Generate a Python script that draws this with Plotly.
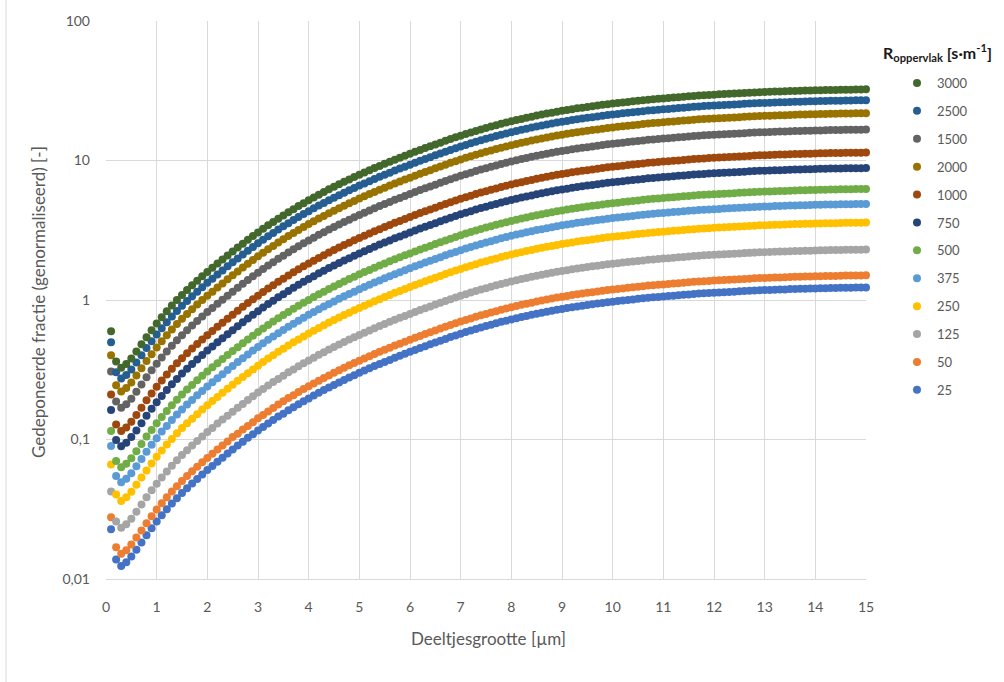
import plotly.graph_objects as go

# Particle diameter [µm]
diameter_um = [
    0.1, 0.2, 0.3, 0.4, 0.5, 0.6, 0.7, 0.8, 0.9, 1.0,
    1.1, 1.2, 1.3, 1.4, 1.5, 1.6, 1.7, 1.8, 1.9, 2.0,
    2.1, 2.2, 2.3, 2.4, 2.5, 2.6, 2.7, 2.8, 2.9, 3.0,
    3.1, 3.2, 3.3, 3.4, 3.5, 3.6, 3.7, 3.8, 3.9, 4.0,
    4.1, 4.2, 4.3, 4.4, 4.5, 4.6, 4.7, 4.8, 4.9, 5.0,
    5.1, 5.2, 5.3, 5.4, 5.5, 5.6, 5.7, 5.8, 5.9, 6.0,
    6.1, 6.2, 6.3, 6.4, 6.5, 6.6, 6.7, 6.8, 6.9, 7.0,
    7.1, 7.2, 7.3, 7.4, 7.5, 7.6, 7.7, 7.8, 7.9, 8.0,
    8.1, 8.2, 8.3, 8.4, 8.5, 8.6, 8.7, 8.8, 8.9, 9.0,
    9.1, 9.2, 9.3, 9.4, 9.5, 9.6, 9.7, 9.8, 9.9, 10.0,
    10.1, 10.2, 10.3, 10.4, 10.5, 10.6, 10.7, 10.8, 10.9, 11.0,
    11.1, 11.2, 11.3, 11.4, 11.5, 11.6, 11.7, 11.8, 11.9, 12.0,
    12.1, 12.2, 12.3, 12.4, 12.5, 12.6, 12.7, 12.8, 12.9, 13.0,
    13.1, 13.2, 13.3, 13.4, 13.5, 13.6, 13.7, 13.8, 13.9, 14.0,
    14.1, 14.2, 14.3, 14.4, 14.5, 14.6, 14.7, 14.8, 14.9, 15.0,
]

# Normalised deposited fraction per surface resistance [s·m-1]
dep_3000 = [
    0.596, 0.363, 0.327, 0.347, 0.380, 0.427, 0.481, 0.541, 0.607, 0.678,
    0.752, 0.830, 0.912, 0.998, 1.086, 1.178, 1.274, 1.374, 1.479, 1.589,
    1.702, 1.824, 1.950, 2.084, 2.228, 2.377, 2.535, 2.698, 2.871, 3.048,
    3.236, 3.428, 3.622, 3.828, 4.036, 4.256, 4.477, 4.710, 4.943, 5.188,
    5.433, 5.689, 5.943, 6.209, 6.471, 6.745, 7.031, 7.311, 7.603, 7.907,
    8.204, 8.511, 8.831, 9.141, 9.462, 9.795, 10.14, 10.47, 10.81, 11.17,
    11.53, 11.91, 12.27, 12.65, 13.03, 13.43, 13.83, 14.26, 14.66, 15.07,
    15.49, 15.89, 16.29, 16.71, 17.10, 17.50, 17.91, 18.32, 18.71, 19.10,
    19.50, 19.86, 20.23, 20.61, 20.99, 21.33, 21.68, 22.03, 22.39, 22.70,
    23.01, 23.33, 23.66, 23.93, 24.21, 24.49, 24.77, 25.06, 25.35, 25.59,
    25.82, 26.06, 26.30, 26.55, 26.79, 27.04, 27.29, 27.48, 27.67, 27.86,
    28.05, 28.25, 28.44, 28.64, 28.84, 29.04, 29.24, 29.38, 29.51, 29.65,
    29.79, 29.92, 30.06, 30.20, 30.34, 30.48, 30.62, 30.76, 30.90, 30.97,
    31.05, 31.19, 31.26, 31.33, 31.48, 31.55, 31.62, 31.70, 31.77, 31.84,
    31.92, 31.99, 32.06, 32.06, 32.14, 32.21, 32.21, 32.28, 32.28, 32.36,
]

dep_2500 = [
    0.498, 0.303, 0.274, 0.290, 0.318, 0.356, 0.402, 0.452, 0.507, 0.566,
    0.628, 0.693, 0.762, 0.834, 0.908, 0.984, 1.064, 1.148, 1.236, 1.327,
    1.423, 1.524, 1.630, 1.742, 1.862, 1.986, 2.118, 2.254, 2.399, 2.547,
    2.704, 2.864, 3.027, 3.199, 3.373, 3.556, 3.741, 3.936, 4.131, 4.335,
    4.540, 4.753, 4.966, 5.188, 5.407, 5.636, 5.875, 6.110, 6.353, 6.607,
    6.855, 7.112, 7.379, 7.638, 7.907, 8.185, 8.472, 8.750, 9.037, 9.333,
    9.639, 9.954, 10.26, 10.57, 10.89, 11.22, 11.56, 11.91, 12.25, 12.59,
    12.94, 13.27, 13.61, 13.96, 14.29, 14.62, 14.96, 15.31, 15.63, 15.96,
    16.29, 16.60, 16.90, 17.22, 17.54, 17.82, 18.11, 18.41, 18.71, 18.97,
    19.23, 19.50, 19.77, 20.00, 20.23, 20.46, 20.70, 20.94, 21.18, 21.38,
    21.58, 21.78, 21.98, 22.18, 22.39, 22.59, 22.80, 22.96, 23.12, 23.28,
    23.44, 23.61, 23.77, 23.93, 24.10, 24.27, 24.43, 24.55, 24.66, 24.77,
    24.89, 25.00, 25.12, 25.23, 25.35, 25.47, 25.59, 25.70, 25.82, 25.88,
    25.94, 26.06, 26.12, 26.18, 26.30, 26.36, 26.42, 26.49, 26.55, 26.61,
    26.67, 26.73, 26.79, 26.79, 26.85, 26.92, 26.92, 26.98, 26.98, 27.04,
]

dep_2000 = [
    0.402, 0.245, 0.221, 0.234, 0.256, 0.288, 0.324, 0.365, 0.409, 0.457,
    0.507, 0.560, 0.615, 0.673, 0.733, 0.794, 0.859, 0.927, 0.998, 1.072,
    1.148, 1.230, 1.315, 1.406, 1.503, 1.603, 1.710, 1.820, 1.936, 2.056,
    2.183, 2.312, 2.443, 2.582, 2.723, 2.871, 3.020, 3.177, 3.334, 3.499,
    3.664, 3.837, 4.009, 4.188, 4.365, 4.550, 4.742, 4.932, 5.129, 5.333,
    5.534, 5.741, 5.957, 6.166, 6.384, 6.607, 6.839, 7.063, 7.294, 7.531,
    7.780, 8.036, 8.280, 8.531, 8.790, 9.057, 9.333, 9.616, 9.886, 10.16,
    10.45, 10.72, 10.99, 11.27, 11.53, 11.80, 12.08, 12.36, 12.62, 12.88,
    13.15, 13.40, 13.65, 13.90, 14.16, 14.39, 14.62, 14.86, 15.10, 15.31,
    15.52, 15.74, 15.96, 16.14, 16.33, 16.52, 16.71, 16.90, 17.10, 17.26,
    17.42, 17.58, 17.74, 17.91, 18.07, 18.24, 18.41, 18.54, 18.66, 18.79,
    18.92, 19.05, 19.19, 19.32, 19.45, 19.59, 19.72, 19.82, 19.91, 20.00,
    20.09, 20.18, 20.28, 20.37, 20.46, 20.56, 20.65, 20.75, 20.84, 20.89,
    20.94, 21.04, 21.09, 21.13, 21.23, 21.28, 21.33, 21.38, 21.43, 21.48,
    21.53, 21.58, 21.63, 21.63, 21.68, 21.73, 21.73, 21.78, 21.78, 21.83,
]

dep_1500 = [
    0.307, 0.187, 0.169, 0.179, 0.196, 0.220, 0.248, 0.279, 0.313, 0.349,
    0.387, 0.428, 0.470, 0.514, 0.560, 0.607, 0.656, 0.708, 0.762, 0.819,
    0.877, 0.940, 1.005, 1.074, 1.148, 1.225, 1.306, 1.390, 1.479, 1.570,
    1.667, 1.766, 1.866, 1.972, 2.080, 2.193, 2.307, 2.427, 2.547, 2.673,
    2.799, 2.931, 3.062, 3.199, 3.334, 3.475, 3.622, 3.767, 3.917, 4.074,
    4.227, 4.385, 4.550, 4.710, 4.875, 5.047, 5.224, 5.395, 5.572, 5.754,
    5.943, 6.138, 6.324, 6.516, 6.714, 6.918, 7.129, 7.345, 7.551, 7.762,
    7.980, 8.185, 8.395, 8.610, 8.810, 9.016, 9.226, 9.441, 9.639, 9.840,
    10.05, 10.23, 10.42, 10.62, 10.81, 10.99, 11.17, 11.35, 11.53, 11.69,
    11.86, 12.02, 12.19, 12.33, 12.47, 12.62, 12.76, 12.91, 13.06, 13.18,
    13.30, 13.43, 13.55, 13.68, 13.80, 13.93, 14.06, 14.16, 14.26, 14.35,
    14.45, 14.55, 14.66, 14.76, 14.86, 14.96, 15.07, 15.14, 15.21, 15.28,
    15.35, 15.42, 15.49, 15.56, 15.63, 15.70, 15.78, 15.85, 15.92, 15.96,
    16.00, 16.07, 16.11, 16.14, 16.22, 16.26, 16.29, 16.33, 16.37, 16.41,
    16.44, 16.48, 16.52, 16.52, 16.56, 16.60, 16.60, 16.63, 16.63, 16.67,
]

dep_1000 = [
    0.210, 0.128, 0.115, 0.122, 0.134, 0.150, 0.169, 0.191, 0.214, 0.239,
    0.265, 0.292, 0.321, 0.352, 0.383, 0.415, 0.449, 0.484, 0.521, 0.560,
    0.600, 0.643, 0.687, 0.735, 0.785, 0.838, 0.893, 0.951, 1.012, 1.074,
    1.140, 1.208, 1.276, 1.349, 1.422, 1.500, 1.578, 1.660, 1.742, 1.828,
    1.914, 2.004, 2.094, 2.188, 2.280, 2.377, 2.477, 2.576, 2.679, 2.786,
    2.891, 2.999, 3.111, 3.221, 3.334, 3.451, 3.573, 3.690, 3.811, 3.936,
    4.064, 4.198, 4.325, 4.457, 4.592, 4.732, 4.875, 5.023, 5.164, 5.309,
    5.458, 5.598, 5.741, 5.888, 6.026, 6.166, 6.310, 6.457, 6.592, 6.730,
    6.871, 6.998, 7.129, 7.261, 7.396, 7.516, 7.638, 7.762, 7.888, 7.998,
    8.110, 8.223, 8.337, 8.433, 8.531, 8.630, 8.730, 8.831, 8.933, 9.016,
    9.099, 9.183, 9.269, 9.354, 9.441, 9.528, 9.616, 9.683, 9.750, 9.817,
    9.886, 9.954, 10.02, 10.09, 10.16, 10.23, 10.30, 10.35, 10.40, 10.45,
    10.50, 10.54, 10.59, 10.64, 10.69, 10.74, 10.79, 10.84, 10.89, 10.91,
    10.94, 10.99, 11.02, 11.04, 11.09, 11.12, 11.14, 11.17, 11.19, 11.22,
    11.25, 11.27, 11.30, 11.30, 11.32, 11.35, 11.35, 11.38, 11.38, 11.40,
]

dep_750 = [
    0.163, 0.0991, 0.0893, 0.0946, 0.104, 0.116, 0.131, 0.148, 0.166, 0.185,
    0.205, 0.226, 0.249, 0.272, 0.297, 0.321, 0.348, 0.375, 0.404, 0.434,
    0.465, 0.498, 0.532, 0.569, 0.608, 0.649, 0.692, 0.736, 0.783, 0.832,
    0.883, 0.935, 0.989, 1.045, 1.101, 1.161, 1.222, 1.285, 1.349, 1.416,
    1.483, 1.552, 1.622, 1.694, 1.766, 1.841, 1.919, 1.995, 2.075, 2.158,
    2.239, 2.323, 2.410, 2.495, 2.582, 2.673, 2.767, 2.858, 2.951, 3.048,
    3.148, 3.251, 3.350, 3.451, 3.556, 3.664, 3.776, 3.890, 3.999, 4.111,
    4.227, 4.335, 4.446, 4.560, 4.667, 4.775, 4.887, 5.000, 5.105, 5.212,
    5.321, 5.420, 5.521, 5.623, 5.728, 5.821, 5.916, 6.012, 6.110, 6.194,
    6.281, 6.368, 6.457, 6.531, 6.607, 6.683, 6.761, 6.839, 6.918, 6.982,
    7.047, 7.112, 7.178, 7.244, 7.311, 7.379, 7.447, 7.499, 7.551, 7.603,
    7.656, 7.709, 7.762, 7.816, 7.870, 7.925, 7.980, 8.017, 8.054, 8.091,
    8.128, 8.166, 8.204, 8.242, 8.280, 8.318, 8.357, 8.395, 8.434, 8.453,
    8.472, 8.511, 8.531, 8.551, 8.591, 8.610, 8.630, 8.650, 8.670, 8.690,
    8.710, 8.730, 8.750, 8.750, 8.770, 8.790, 8.790, 8.810, 8.810, 8.831,
]

dep_500 = [
    0.115, 0.0702, 0.0632, 0.0670, 0.0735, 0.0824, 0.0929, 0.105, 0.117, 0.131,
    0.145, 0.160, 0.176, 0.193, 0.210, 0.228, 0.246, 0.266, 0.286, 0.307,
    0.329, 0.352, 0.377, 0.403, 0.431, 0.459, 0.490, 0.521, 0.555, 0.589,
    0.625, 0.662, 0.700, 0.740, 0.780, 0.822, 0.865, 0.910, 0.955, 1.002,
    1.050, 1.099, 1.148, 1.199, 1.250, 1.303, 1.358, 1.413, 1.469, 1.528,
    1.585, 1.644, 1.706, 1.766, 1.828, 1.892, 1.959, 2.023, 2.089, 2.158,
    2.228, 2.301, 2.371, 2.443, 2.518, 2.594, 2.673, 2.754, 2.831, 2.911,
    2.992, 3.069, 3.148, 3.228, 3.304, 3.381, 3.459, 3.540, 3.614, 3.690,
    3.767, 3.837, 3.908, 3.981, 4.055, 4.121, 4.188, 4.256, 4.325, 4.385,
    4.446, 4.508, 4.571, 4.624, 4.677, 4.732, 4.786, 4.842, 4.898, 4.943,
    4.989, 5.035, 5.082, 5.129, 5.176, 5.224, 5.272, 5.309, 5.346, 5.383,
    5.420, 5.458, 5.495, 5.534, 5.572, 5.610, 5.649, 5.675, 5.701, 5.728,
    5.754, 5.781, 5.808, 5.834, 5.861, 5.888, 5.916, 5.943, 5.970, 5.984,
    5.998, 6.026, 6.040, 6.054, 6.082, 6.096, 6.110, 6.124, 6.138, 6.152,
    6.166, 6.180, 6.194, 6.194, 6.209, 6.223, 6.223, 6.237, 6.237, 6.252,
]

dep_375 = [
    0.0900, 0.0548, 0.0494, 0.0524, 0.0574, 0.0644, 0.0726, 0.0817, 0.0916, 0.102,
    0.114, 0.125, 0.138, 0.151, 0.164, 0.178, 0.192, 0.208, 0.223, 0.240,
    0.257, 0.275, 0.294, 0.315, 0.337, 0.359, 0.383, 0.407, 0.434, 0.460,
    0.489, 0.518, 0.547, 0.578, 0.610, 0.643, 0.676, 0.711, 0.746, 0.783,
    0.820, 0.859, 0.898, 0.938, 0.977, 1.019, 1.062, 1.104, 1.148, 1.194,
    1.239, 1.285, 1.334, 1.380, 1.429, 1.479, 1.531, 1.581, 1.633, 1.687,
    1.742, 1.799, 1.854, 1.910, 1.968, 2.028, 2.089, 2.153, 2.213, 2.275,
    2.339, 2.399, 2.460, 2.523, 2.582, 2.642, 2.704, 2.767, 2.825, 2.884,
    2.944, 2.999, 3.055, 3.111, 3.170, 3.221, 3.273, 3.327, 3.381, 3.428,
    3.475, 3.524, 3.573, 3.614, 3.656, 3.698, 3.741, 3.784, 3.828, 3.864,
    3.899, 3.936, 3.972, 4.009, 4.046, 4.083, 4.121, 4.150, 4.178, 4.207,
    4.236, 4.266, 4.295, 4.325, 4.355, 4.385, 4.416, 4.436, 4.457, 4.477,
    4.498, 4.519, 4.540, 4.560, 4.581, 4.603, 4.624, 4.645, 4.667, 4.677,
    4.688, 4.710, 4.721, 4.732, 4.753, 4.764, 4.775, 4.786, 4.797, 4.808,
    4.820, 4.831, 4.842, 4.842, 4.853, 4.864, 4.864, 4.875, 4.875, 4.887,
]

dep_250 = [
    0.0661, 0.0403, 0.0363, 0.0385, 0.0422, 0.0473, 0.0533, 0.0600, 0.0673, 0.0752,
    0.0834, 0.0920, 0.101, 0.111, 0.121, 0.131, 0.141, 0.152, 0.164, 0.176,
    0.189, 0.202, 0.216, 0.231, 0.247, 0.264, 0.281, 0.299, 0.318, 0.338,
    0.359, 0.380, 0.402, 0.425, 0.448, 0.472, 0.497, 0.522, 0.548, 0.575,
    0.603, 0.631, 0.659, 0.689, 0.718, 0.748, 0.780, 0.811, 0.843, 0.877,
    0.910, 0.944, 0.980, 1.014, 1.050, 1.086, 1.125, 1.161, 1.199, 1.239,
    1.279, 1.321, 1.361, 1.403, 1.445, 1.489, 1.535, 1.581, 1.626, 1.671,
    1.718, 1.762, 1.807, 1.854, 1.897, 1.941, 1.986, 2.032, 2.075, 2.118,
    2.163, 2.203, 2.244, 2.286, 2.328, 2.366, 2.404, 2.443, 2.483, 2.518,
    2.553, 2.588, 2.624, 2.655, 2.685, 2.717, 2.748, 2.780, 2.812, 2.838,
    2.864, 2.891, 2.917, 2.944, 2.972, 2.999, 3.027, 3.048, 3.069, 3.090,
    3.111, 3.133, 3.155, 3.177, 3.199, 3.221, 3.243, 3.258, 3.273, 3.289,
    3.304, 3.319, 3.334, 3.350, 3.365, 3.381, 3.396, 3.412, 3.428, 3.436,
    3.443, 3.459, 3.467, 3.475, 3.491, 3.499, 3.508, 3.516, 3.524, 3.532,
    3.540, 3.548, 3.556, 3.556, 3.565, 3.573, 3.573, 3.581, 3.581, 3.589,
]

dep_125 = [
    0.0424, 0.0258, 0.0233, 0.0247, 0.0270, 0.0303, 0.0342, 0.0385, 0.0432, 0.0482,
    0.0535, 0.0590, 0.0649, 0.0710, 0.0773, 0.0838, 0.0906, 0.0977, 0.105, 0.113,
    0.121, 0.130, 0.139, 0.148, 0.158, 0.169, 0.180, 0.192, 0.204, 0.217,
    0.230, 0.244, 0.258, 0.272, 0.287, 0.303, 0.318, 0.335, 0.352, 0.369,
    0.386, 0.405, 0.423, 0.442, 0.460, 0.480, 0.500, 0.520, 0.541, 0.562,
    0.583, 0.605, 0.628, 0.650, 0.673, 0.697, 0.721, 0.745, 0.769, 0.794,
    0.820, 0.847, 0.873, 0.900, 0.927, 0.955, 0.984, 1.014, 1.042, 1.072,
    1.101, 1.130, 1.159, 1.189, 1.216, 1.245, 1.274, 1.303, 1.330, 1.358,
    1.387, 1.413, 1.439, 1.466, 1.493, 1.517, 1.542, 1.567, 1.592, 1.614,
    1.637, 1.660, 1.683, 1.702, 1.722, 1.742, 1.762, 1.782, 1.803, 1.820,
    1.837, 1.854, 1.871, 1.888, 1.905, 1.923, 1.941, 1.954, 1.968, 1.982,
    1.995, 2.009, 2.023, 2.037, 2.051, 2.065, 2.080, 2.089, 2.099, 2.109,
    2.118, 2.128, 2.138, 2.148, 2.158, 2.168, 2.178, 2.188, 2.198, 2.203,
    2.208, 2.218, 2.223, 2.228, 2.239, 2.244, 2.249, 2.254, 2.259, 2.265,
    2.270, 2.275, 2.280, 2.280, 2.286, 2.291, 2.291, 2.296, 2.296, 2.301,
]

dep_50 = [
    0.0277, 0.0169, 0.0152, 0.0161, 0.0177, 0.0198, 0.0223, 0.0251, 0.0282, 0.0315,
    0.0349, 0.0386, 0.0424, 0.0463, 0.0505, 0.0547, 0.0592, 0.0638, 0.0687, 0.0738,
    0.0791, 0.0847, 0.0906, 0.0968, 0.104, 0.110, 0.118, 0.125, 0.133, 0.142,
    0.150, 0.159, 0.168, 0.178, 0.188, 0.198, 0.208, 0.219, 0.230, 0.241,
    0.252, 0.264, 0.276, 0.288, 0.301, 0.313, 0.327, 0.340, 0.353, 0.367,
    0.381, 0.395, 0.410, 0.425, 0.440, 0.455, 0.471, 0.486, 0.502, 0.519,
    0.536, 0.553, 0.570, 0.588, 0.605, 0.624, 0.643, 0.662, 0.681, 0.700,
    0.720, 0.738, 0.757, 0.776, 0.794, 0.813, 0.832, 0.851, 0.869, 0.887,
    0.906, 0.923, 0.940, 0.957, 0.975, 0.991, 1.007, 1.023, 1.040, 1.054,
    1.069, 1.084, 1.099, 1.112, 1.125, 1.138, 1.151, 1.164, 1.178, 1.189,
    1.199, 1.211, 1.222, 1.233, 1.245, 1.256, 1.268, 1.276, 1.285, 1.294,
    1.303, 1.312, 1.321, 1.330, 1.340, 1.349, 1.358, 1.365, 1.371, 1.377,
    1.384, 1.390, 1.396, 1.403, 1.409, 1.416, 1.422, 1.429, 1.435, 1.439,
    1.442, 1.449, 1.452, 1.455, 1.462, 1.466, 1.469, 1.472, 1.476, 1.479,
    1.483, 1.486, 1.489, 1.489, 1.493, 1.496, 1.496, 1.500, 1.500, 1.503,
]

dep_25 = [
    0.0227, 0.0138, 0.0124, 0.0132, 0.0145, 0.0162, 0.0183, 0.0206, 0.0231, 0.0258,
    0.0286, 0.0316, 0.0347, 0.0379, 0.0413, 0.0448, 0.0484, 0.0522, 0.0562, 0.0604,
    0.0647, 0.0693, 0.0741, 0.0793, 0.0847, 0.0904, 0.0964, 0.103, 0.109, 0.116,
    0.123, 0.130, 0.138, 0.146, 0.153, 0.162, 0.170, 0.179, 0.188, 0.197,
    0.207, 0.216, 0.226, 0.236, 0.246, 0.256, 0.267, 0.278, 0.289, 0.301,
    0.312, 0.324, 0.336, 0.348, 0.360, 0.372, 0.386, 0.398, 0.411, 0.425,
    0.439, 0.453, 0.467, 0.481, 0.496, 0.511, 0.526, 0.542, 0.557, 0.573,
    0.589, 0.604, 0.619, 0.635, 0.650, 0.665, 0.681, 0.697, 0.711, 0.726,
    0.741, 0.755, 0.769, 0.783, 0.798, 0.811, 0.824, 0.838, 0.851, 0.863,
    0.875, 0.887, 0.900, 0.910, 0.920, 0.931, 0.942, 0.953, 0.964, 0.973,
    0.982, 0.991, 1.000, 1.009, 1.019, 1.028, 1.038, 1.045, 1.052, 1.059,
    1.067, 1.074, 1.081, 1.089, 1.096, 1.104, 1.112, 1.117, 1.122, 1.127,
    1.132, 1.138, 1.143, 1.148, 1.153, 1.159, 1.164, 1.169, 1.175, 1.178,
    1.180, 1.186, 1.189, 1.191, 1.197, 1.199, 1.202, 1.205, 1.208, 1.211,
    1.213, 1.216, 1.219, 1.219, 1.222, 1.225, 1.225, 1.227, 1.227, 1.230,
]

# Log-axis ticks with decimal commas
y_tick_values = [0.01, 0.1, 1, 10, 100]
y_tick_labels = ["0,01", "0,1", "1", "10", "100"]

# (legend label, colour, values) in drawing order
series = [
    ("25", "#4472C4", dep_25),
    ("50", "#ED7D31", dep_50),
    ("125", "#A5A5A5", dep_125),
    ("250", "#FFC000", dep_250),
    ("375", "#5B9BD5", dep_375),
    ("500", "#70AD47", dep_500),
    ("750", "#264478", dep_750),
    ("1000", "#9E480E", dep_1000),
    ("2000", "#997300", dep_2000),
    ("1500", "#636363", dep_1500),
    ("2500", "#255E91", dep_2500),
    ("3000", "#43682B", dep_3000),
]

FONT = "Lato, 'Open Sans', 'DejaVu Sans', sans-serif"
TEXT_GREY = "#595959"
GRID = "#D9D9D9"

W, H = 1004, 682
L, R, T, B = 106, 138, 21, 103
plot_w, plot_h = W - L - R, H - T - B


def px_x(px):
    return (px - L) / plot_w


def px_y(py):
    return (H - B - py) / plot_h


fig = go.Figure()
n_series = len(series)
for i, (label, colour, values) in enumerate(series):
    fig.add_trace(go.Scatter(
        x=diameter_um,
        y=values,
        mode="markers",
        name=label,
        legendgroup=label,
        legendrank=n_series - i,  # last-drawn series heads the legend
        marker=dict(color=colour, size=8, line=dict(width=0)),
        cliponaxis=False,
    ))

fig.update_layout(
    width=W,
    height=H,
    margin=dict(l=L, r=R, t=T, b=B),
    paper_bgcolor="white",
    plot_bgcolor="white",
    font=dict(family=FONT, color=TEXT_GREY, size=14),
    showlegend=True,
    legend=dict(
        xref="container", yref="container",
        x=897 / W, y=1 - 68 / H,
        xanchor="left", yanchor="top",
        traceorder="grouped",
        tracegroupgap=8,
        font=dict(family=FONT, size=13, color=TEXT_GREY),
        bgcolor="rgba(0,0,0,0)",
        borderwidth=0,
    ),
)

fig.update_xaxes(
    range=[0, 15],
    tick0=0,
    dtick=1,
    showgrid=True,
    gridcolor=GRID,
    gridwidth=1,
    zeroline=False,
    showline=True,
    linecolor=GRID,
    linewidth=1,
    ticks="",
    ticklabelstandoff=15,
    tickfont=dict(family=FONT, size=14, color=TEXT_GREY),
)

fig.update_yaxes(
    type="log",
    range=[-2, 2],
    tickvals=y_tick_values,
    ticktext=y_tick_labels,
    showgrid=True,
    gridcolor=GRID,
    gridwidth=1,
    zeroline=False,
    showline=False,
    ticks="",
    ticklabelstandoff=15,
    tickfont=dict(family=FONT, size=14, color=TEXT_GREY),
)

# Axis titles and legend heading
fig.add_annotation(
    text="Gedeponeerde fractie (genormaliseerd) [-]",
    xref="paper", yref="paper",
    x=px_x(39), y=px_y(302),
    xanchor="center", yanchor="middle",
    textangle=-90, showarrow=False,
    font=dict(family=FONT, size=17, color=TEXT_GREY),
)
fig.add_annotation(
    text="Deeltjesgrootte [µm]",
    xref="paper", yref="paper",
    x=px_x(488), y=px_y(638),
    xanchor="center", yanchor="middle",
    showarrow=False,
    font=dict(family=FONT, size=17, color=TEXT_GREY),
)
fig.add_annotation(
    text="<b>R<sub>oppervlak</sub> [s·m<sup>-1</sup>]</b>",
    xref="paper", yref="paper",
    x=px_x(881), y=px_y(53),
    xanchor="left", yanchor="middle",
    showarrow=False,
    font=dict(family=FONT, size=16, color="#1A1A1A"),
)

# Chart-area border on the left edge
fig.add_shape(
    type="line", xref="paper", yref="paper",
    x0=px_x(6), x1=px_x(6), y0=px_y(H), y1=px_y(0),
    line=dict(color=GRID, width=1),
)

fig.write_html("out.html")
